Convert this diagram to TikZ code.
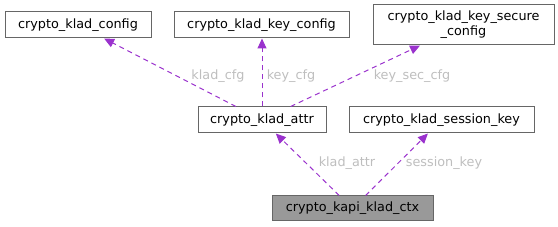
\documentclass[tikz,border=0pt]{standalone}
\usepackage{fontspec}
\setmainfont{DejaVu Sans}
\usetikzlibrary{arrows.meta}
\definecolor{edgec}{HTML}{9A32CD}
\definecolor{labc}{HTML}{BEBEBE}
\definecolor{bordc}{HTML}{666666}
\definecolor{ctxfill}{HTML}{999999}
\begin{document}
\begin{tikzpicture}[x=1pt,y=-1pt,
  box/.style={draw=bordc,fill=white,line width=1pt,inner sep=0pt,align=center,font=\fontsize{12.8}{15}\selectfont},
  rel/.style={draw=edgec,line width=1pt,dash pattern=on 5pt off 4pt,-{Triangle[length=10pt,width=9pt]}},
  lab/.style={text=labc,font=\fontsize{12.8}{15}\selectfont,inner sep=0pt}]
\useasboundingbox (0,0) rectangle (558,227);
\node[box,minimum width=146pt,minimum height=26pt] (config) at (78,25) {crypto\_klad\_config};
\node[box,minimum width=175pt,minimum height=26pt] (keyconfig) at (261.5,25) {crypto\_klad\_key\_config};
\node[box,minimum width=181pt,minimum height=40pt] (keysec) at (463.5,25) {crypto\_klad\_key\_secure\\\_config};
\node[box,minimum width=128pt,minimum height=26pt] (attr) at (262,120) {crypto\_klad\_attr};
\node[box,minimum width=185pt,minimum height=26pt] (session) at (441.5,120) {crypto\_klad\_session\_key};
\node[box,fill=ctxfill,minimum width=161pt,minimum height=25pt] (ctx) at (352.5,208.5) {crypto\_kapi\_klad\_ctx};
\draw[rel] (attr) -- (config);
\draw[rel] (attr.north) -- (keyconfig.south -| attr.north);
\draw[rel] (attr) -- (keysec);
\draw[rel] (ctx) -- (attr);
\draw[rel] (ctx) -- (session);
\node[lab] (l1) at (218,76) {klad\_cfg};
\node[lab] (l2) at (291,76) {key\_cfg};
\node[lab] (l3) at (412,76) {key\_sec\_cfg};
\node[lab] (l4) at (347,163) {klad\_attr};
\node[lab] (l5) at (444,163) {session\_key};
\end{tikzpicture}
\end{document}
